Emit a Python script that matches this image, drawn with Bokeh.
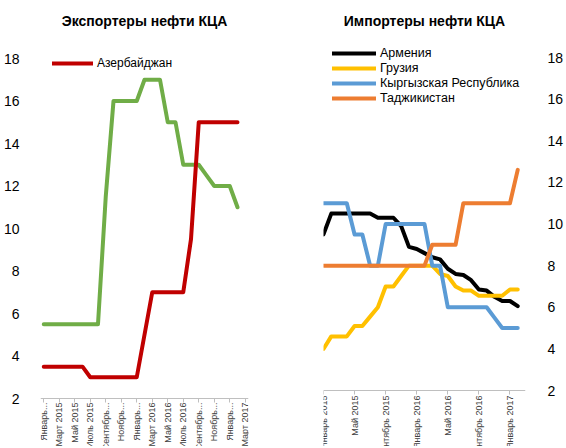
import math
from bokeh.plotting import figure
from bokeh.models import ColumnDataSource, FixedTicker, Legend, LegendItem, Range1d
from bokeh.layouts import row
from bokeh.embed import file_html
from bokeh.resources import INLINE

# ---------------- data ----------------
months = ["Январь 2015", "Февраль 2015", "Март 2015", "Апрель 2015", "Май 2015",
          "Июнь 2015", "Июль 2015", "Август 2015", "Сентябрь 2015", "Октябрь 2015",
          "Ноябрь 2015", "Декабрь 2015", "Январь 2016", "Февраль 2016", "Март 2016",
          "Апрель 2016", "Май 2016", "Июнь 2016", "Июль 2016", "Август 2016",
          "Сентябрь 2016", "Октябрь 2016", "Ноябрь 2016", "Декабрь 2016",
          "Январь 2017", "Февраль 2017"]
x_idx = list(range(len(months)))

# Exporters
azerbaijan = [3.5, 3.5, 3.5, 3.5, 3.5, 3.5, 3.0, 3.0, 3.0, 3.0, 3.0, 3.0, 3.0,
              5.0, 7.0, 7.0, 7.0, 7.0, 7.0, 9.5, 15, 15, 15, 15, 15, 15]
exporter_green = [5.5, 5.5, 5.5, 5.5, 5.5, 5.5, 5.5, 5.5, 11.5, 16, 16, 16, 16,
                  17, 17, 17, 15, 15, 13, 13, 13, 12.5, 12, 12, 12, 11]

# Importers
armenia = [9.5, 10.5, 10.5, 10.5, 10.5, 10.5, 10.5, 10.3, 10.3, 10.3, 9.9, 8.9,
           8.8, 8.6, 8.4, 8.3, 7.85, 7.6, 7.55, 7.3, 6.85, 6.8, 6.5, 6.3, 6.3, 6.05]
georgia = [4.0, 4.6, 4.6, 4.6, 5.1, 5.1, 5.55, 6.0, 7.0, 7.0, 7.5, 8.0, 8.0,
           8.0, 8.0, 7.6, 7.5, 7.0, 6.8, 6.8, 6.55, 6.55, 6.55, 6.55, 6.85, 6.85]
kyrgyz = [11, 11, 11, 11, 9.5, 9.5, 8, 8, 10, 10, 10, 10, 10, 10, 8, 8,
          6, 6, 6, 6, 6, 6, 5.5, 5, 5, 5]
tajik = [8, 8, 8, 8, 8, 8, 8, 8, 8, 8, 8, 8, 8, 8, 9, 9, 9, 9,
         11, 11, 11, 11, 11, 11, 11, 12.6]

left_tick_pos = [0, 2, 4, 6, 8, 10, 12, 14, 16, 18, 20, 22, 24, 26]
left_tick_labels = ["Январь...", "Март 2015", "Май 2015", "Июль 2015", "Сентябрь...",
                    "Ноябрь...", "Январь...", "Март 2016", "Май 2016", "Июль 2016",
                    "Сентябрь...", "Ноябрь...", "Январь...", "Март 2017"]
right_tick_pos = [0, 4, 8, 12, 16, 20, 24]
right_tick_labels = ["Январь 2015", "Май 2015", "Сентябрь 2015", "Январь 2016",
                     "Май 2016", "Сентябрь 2016", "Январь 2017"]
y_ticks = [2, 4, 6, 8, 10, 12, 14, 16, 18]

FONT = "Liberation Sans"
H = 446          # figure height
TOP = 36         # border above frame (title area)

# vertical geometry (pixels inside figure): rows of value 18 and value 2
L18, L2 = 58, 398
R18, R2 = 57, 390


def yr(p18, p2):
    ppu = (p2 - p18) / 16.0
    return Range1d(2 - (H - p2) / ppu, 18 + (p18 - TOP) / ppu)


def style(p, title):
    p.outline_line_color = None
    p.xgrid.grid_line_color = None
    p.ygrid.grid_line_color = None
    p.background_fill_color = "white"
    p.border_fill_color = "white"
    p.title.text = title
    p.title.align = "center"
    p.title.text_font = FONT
    p.title.text_font_style = "bold"
    p.title.text_font_size = "14px"
    p.title.text_color = "#000000"
    p.title.standoff = 15
    p.yaxis.ticker = FixedTicker(ticks=y_ticks)
    p.yaxis.axis_line_color = None
    p.yaxis.major_tick_line_color = None
    p.yaxis.minor_tick_line_color = None
    p.yaxis.major_label_text_font = FONT
    p.yaxis.major_label_text_font_size = "14px"
    p.yaxis.major_label_text_color = "#000000"
    p.xaxis.fixed_location = 2
    p.xaxis.axis_line_color = "#BFBFBF"
    p.xaxis.major_tick_line_color = "#BFBFBF"
    p.xaxis.minor_tick_line_color = None
    p.xaxis.major_tick_in = 0
    p.xaxis.major_tick_out = 4
    p.xaxis.major_label_orientation = math.pi / 2
    p.xaxis.major_label_text_font = FONT
    p.xaxis.major_label_text_font_size = "9px"
    p.xaxis.major_label_text_color = "#404040"


# ---------------- left chart ----------------
p1 = figure(width=283, height=H, x_range=Range1d(-0.42, 26.42), y_range=yr(L18, L2),
            output_backend="svg", toolbar_location=None,
            min_border_left=40, min_border_right=35, min_border_top=TOP, min_border_bottom=0)
style(p1, "Экспортеры нефти КЦА")
p1.yaxis.major_label_standoff = 15
p1.xaxis.ticker = FixedTicker(ticks=left_tick_pos)
p1.xaxis.major_label_overrides = dict(zip(left_tick_pos, left_tick_labels))
p1.xaxis.major_label_standoff = 0

src1 = ColumnDataSource(dict(x=x_idx, az=azerbaijan, gr=exporter_green))
p1.line("x", "gr", source=src1, line_color="#70AD47", line_width=4,
        line_join="round", line_cap="round")
r_az = p1.line("x", "az", source=src1, line_color="#C00000", line_width=4,
               line_join="round", line_cap="round")

leg1 = Legend(items=[LegendItem(label="Азербайджан", renderers=[r_az])],
              location=(12, H - 70), border_line_color=None,
              background_fill_alpha=0, padding=0, margin=0, glyph_width=41,
              glyph_height=14, label_height=14, label_standoff=4, spacing=1,
              label_text_font=FONT, label_text_font_size="12px", label_text_color="#000000")
p1.add_layout(leg1)

# ---------------- right chart ----------------
p2 = figure(width=283, height=H, x_range=Range1d(0, 26.0), y_range=yr(R18, R2),
            y_axis_location="right", output_backend="svg", toolbar_location=None,
            min_border_left=40, min_border_right=33, min_border_top=TOP, min_border_bottom=0)
style(p2, "Импортеры нефти КЦА")
p2.yaxis.major_label_standoff = 16
p2.xaxis.ticker = FixedTicker(ticks=right_tick_pos)
p2.xaxis.major_label_overrides = dict(zip(right_tick_pos, right_tick_labels))
p2.xaxis.major_label_standoff = 1

src2 = ColumnDataSource(dict(x=x_idx, am=armenia, ge=georgia, kg=kyrgyz, tj=tajik))
r_am = p2.line("x", "am", source=src2, line_color="#000000", line_width=4,
               line_join="round", line_cap="round")
r_ge = p2.line("x", "ge", source=src2, line_color="#FFC000", line_width=4,
               line_join="round", line_cap="round")
r_kg = p2.line("x", "kg", source=src2, line_color="#5B9BD5", line_width=4,
               line_join="round", line_cap="round")
r_tj = p2.line("x", "tj", source=src2, line_color="#ED7D31", line_width=4,
               line_join="round", line_cap="round")

leg2 = Legend(items=[LegendItem(label="Армения", renderers=[r_am]),
                     LegendItem(label="Грузия", renderers=[r_ge]),
                     LegendItem(label="Кыргызская Республика", renderers=[r_kg]),
                     LegendItem(label="Таджикистан", renderers=[r_tj])],
              location=(9, H - 105), border_line_color=None, background_fill_alpha=0,
              padding=0, margin=0, glyph_width=44, glyph_height=14, label_height=14,
              label_standoff=4, spacing=1, label_text_font=FONT,
              label_text_font_size="12.5px", label_text_color="#000000")
p2.add_layout(leg2)

layout = row(p1, p2)
open("out.html", "w").write(file_html(layout, INLINE))
